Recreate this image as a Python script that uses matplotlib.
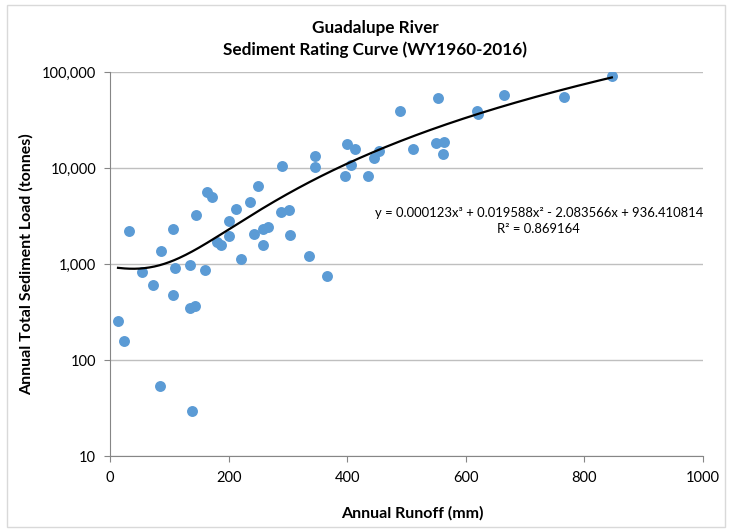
import matplotlib
matplotlib.use("Agg")
import matplotlib.pyplot as plt
import numpy as np
from matplotlib.ticker import FuncFormatter, FixedLocator, NullLocator
from matplotlib.patches import Rectangle

# annual runoff (mm) and annual sediment load (tonnes)
runoff = [13.5, 23.6, 32.1, 54.0, 72.6, 86.1, 84.5, 106.4, 106.4, 109.8,
          135.1, 135.1, 143.6, 138.5, 145.3, 160.5, 163.9, 172.3, 180.7, 187.5,
          201.0, 201.0, 212.8, 221.3, 236.5, 250.0, 243.2, 258.4, 266.9, 258.4,
          288.9, 302.4, 304.0, 290.5, 336.1, 366.6, 346.3, 346.3, 397.0, 407.0,
          400.3, 413.9, 435.8, 446.0, 454.4, 488.2, 511.8, 549.0, 562.5, 560.8,
          552.4, 618.2, 620.0, 663.9, 765.2, 846.3]
load = [255, 158, 2207, 826, 604, 1365, 54, 2317, 475, 908,
        977, 348, 365, 29.4, 3240, 866, 5620, 4990, 1694, 1577,
        2805, 1958, 3740, 1127, 4426, 6494, 2054, 2317, 2427, 1577,
        3481, 3652, 2005, 10490, 1212, 750, 13335, 10240, 8250, 10750,
        17780, 15780, 8250, 12700, 15040, 39250, 15780, 18200, 18660, 13990,
        53580, 39250, 36520, 57550, 55000, 90800]

# cubic trendline coefficients as shown on the chart
coef = [0.000123, 0.019588, -2.083566, 936.410814]
r2 = 0.869164

title = "Guadalupe River\nSediment Rating Curve (WY1960-2016)"
xlabel = "Annual Runoff (mm)"
ylabel = "Annual Total Sediment Load (tonnes)"
xticks = [0, 200, 400, 600, 800, 1000]
yticks = [10, 100, 1000, 10000, 100000]

plt.rcParams['font.family'] = ['Lato', 'DejaVu Sans']

fig = plt.figure(figsize=(7.3, 5.31), dpi=100)
ax = fig.add_axes([110/730, 1 - 456/531, 593/730, 384/531])

# chart border
fig.patches.append(Rectangle((7/730, 4/531), 718/730, 522/531, transform=fig.transFigure,
                             fill=False, edgecolor='#d9d9d9', linewidth=1))

ax.set_yscale('log')
ax.set_xlim(0, 1000)
ax.set_ylim(10, 100000)

ax.scatter(runoff, load, s=62, color='#5b9bd5', zorder=3, linewidths=0)

xs = np.linspace(min(runoff), max(runoff), 300)
ax.plot(xs, np.polyval(coef, xs), color='black', linewidth=1.6, zorder=4)

eq = "y = 0.000123x³ + 0.019588x² - 2.083566x + 936.410814\nR² = %.6f" % r2
ax.text(723, 10**3.45, eq, ha='center', va='center', fontsize=9.4, linespacing=1.4)

ax.yaxis.set_major_locator(FixedLocator(yticks))
ax.yaxis.set_minor_locator(NullLocator())
ax.yaxis.set_major_formatter(FuncFormatter(lambda v, p: f"{v:,.0f}"))
ax.set_xticks(xticks)

ax.grid(axis='y', color='#bfbfbf', linewidth=1)
ax.set_axisbelow(True)
for s in ['top', 'right']:
    ax.spines[s].set_visible(False)
for s in ['left', 'bottom']:
    ax.spines[s].set_color('#868686')
ax.tick_params(axis='both', direction='out', length=4, color='#868686', labelsize=10.5)
ax.tick_params(axis='x', pad=7)
ax.tick_params(axis='y', pad=6)

fig.text(375/730, 1 - 39/531, title, ha='center', va='center', fontsize=12.3,
         fontweight='bold', linespacing=1.4)
ax.set_xlabel(xlabel, fontsize=11.5, fontweight='bold')
ax.xaxis.set_label_coords((412 - 110)/593, -(506 - 456)/384)
ax.set_ylabel(ylabel, fontsize=11.5, fontweight='bold')
ax.yaxis.set_label_coords(-(110 - 34)/593, 0.5)

fig.savefig("out.png", dpi=100)
